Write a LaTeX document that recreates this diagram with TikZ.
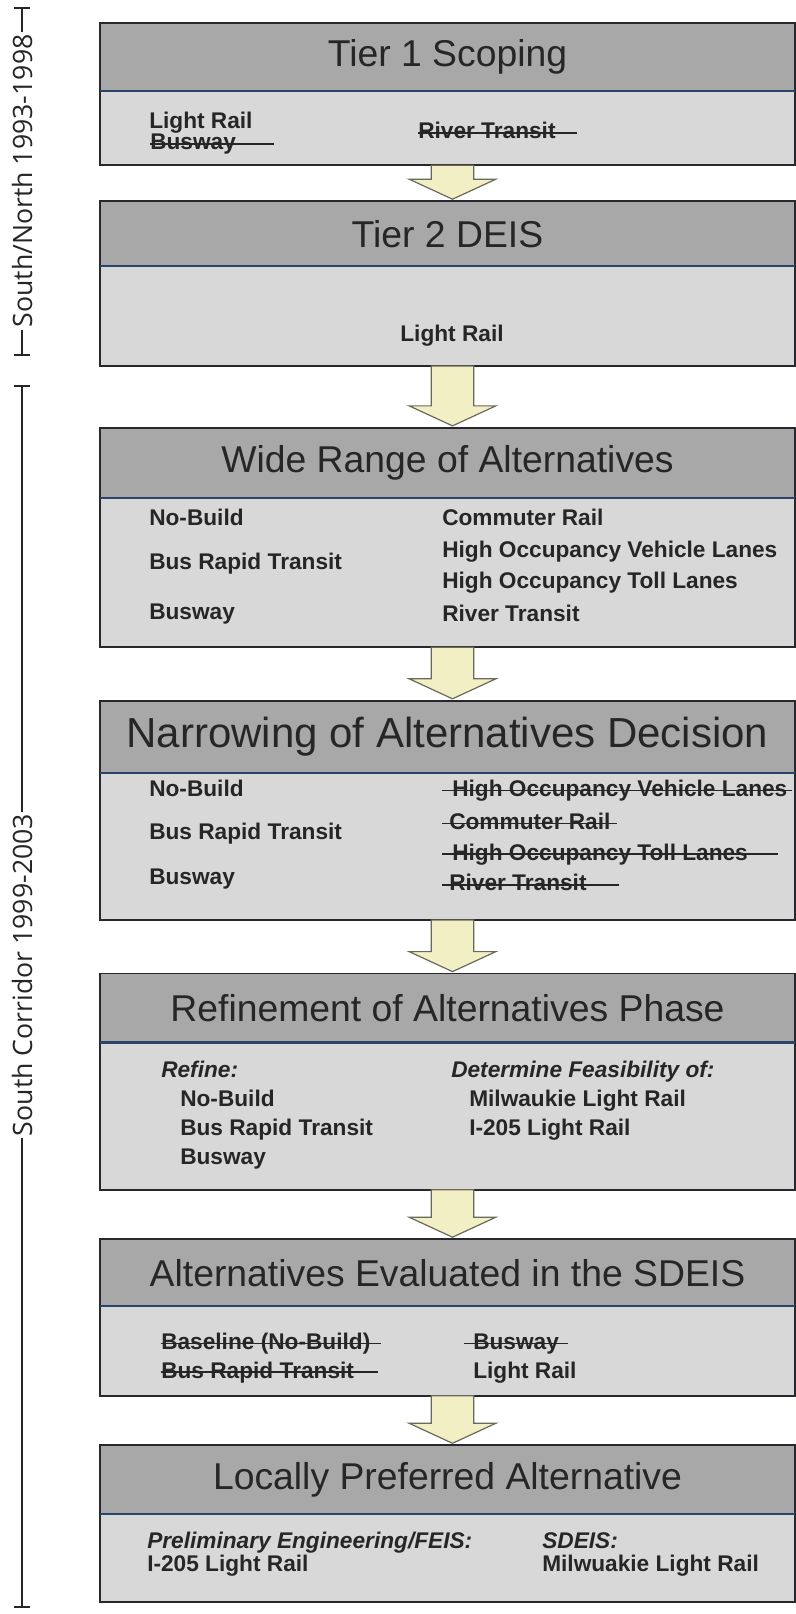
\documentclass[tikz,border=0pt]{standalone}
\usepackage{fontspec}
\setmainfont{Liberation Sans}
\newfontfamily\sidefont{Open Sans}
\usepackage{tikz}
\usetikzlibrary{positioning,calc}
\definecolor{headgray}{RGB}{168,168,168}
\definecolor{bodygray}{RGB}{216,216,216}
\definecolor{framecol}{RGB}{40,40,44}
\definecolor{sepblue}{RGB}{44,68,108}
\definecolor{inkcol}{RGB}{38,38,38}
\definecolor{arrowfill}{RGB}{243,239,196}
\definecolor{arrowline}{RGB}{105,105,92}
\tikzstyle{header} = [draw=framecol, line width=1.2pt, fill=headgray, minimum width=521.25pt,
    inner sep=0pt, outer sep=0pt, text=inkcol, font=\fontsize{28}{30}\selectfont]
\tikzstyle{panel} = [draw=framecol, line width=1.5pt, fill=bodygray, minimum width=521.25pt,
    inner sep=0pt, outer sep=0pt]
\tikzstyle{item} = [anchor=west, inner sep=0pt, text height=0.72em, text depth=0.2em,
    yshift=-3.4pt, text=inkcol, font=\bfseries\fontsize{17}{19}\selectfont]
\tikzstyle{note} = [item, font=\bfseries\itshape\fontsize{17}{19}\selectfont]
\tikzstyle{struck} = [draw=inkcol, line width=1.3pt]
\tikzstyle{divider} = [draw=sepblue, line width=1.8pt]
\tikzstyle{stagearrow} = [draw=arrowline, fill=arrowfill, line width=0.9pt, line join=miter]
\tikzstyle{span} = [draw=inkcol, line width=2pt]
\tikzstyle{era} = [fill=white, rotate=90, inner sep=1.5pt, text=inkcol,
    font=\sidefont\fontsize{20}{22}\selectfont]
% block arrow from one box down to the next
\newcommand{\flowdown}[2]{%
  \draw[stagearrow] let \p1=($(#1.south)+(3.75pt,0)$), \p2=(#2.north) in
    (\x1-16pt,\y1) -- (\x1-16pt,\y2+16.5pt) -- (\x1-32.5pt,\y2+16.5pt) -- (\x1,\y2+1.5pt)
    -- (\x1+32.5pt,\y2+16.5pt) -- (\x1+16pt,\y2+16.5pt) -- (\x1+16pt,\y1) -- cycle;}
% line through a dropped option
\newcommand{\strike}[3]{\draw[struck] ($(#1.west)+(#2,-2.3)$) -- ($(#1.east)+(#3,-2.3)$);}

\begin{document}
\begin{tikzpicture}[x=0.75pt, y=-0.75pt]
  \useasboundingbox (0,0) rectangle (796,1614);
  % Place boxes
  \node [header, minimum height=51pt, anchor=north west] (h1) at (100,23) {Tier 1 Scoping};
  \node [panel, minimum height=55.65pt, below=0pt of h1] (b1) {};
  \node [header, minimum height=48.75pt, below=27pt of b1] (h2) {Tier 2 DEIS};
  \node [panel, minimum height=74.9pt, below=0pt of h2] (b2) {};
  \node [header, minimum height=52.5pt, below=46.35pt of b2] (h3) {Wide Range of Alternatives};
  \node [panel, minimum height=112pt, below=0pt of h3] (b3) {};
  \node [header, minimum height=54pt, below=40.2pt of b3, font=\fontsize{31.5}{33}\selectfont] (h4) {Narrowing of Alternatives Decision};
  \node [panel, minimum height=110.4pt, below=0pt of h4] (b4) {};
  \node [header, minimum height=51.75pt, below=40.2pt of b4] (h5) {Refinement of Alternatives Phase};
  \node [panel, minimum height=110.4pt, below=0pt of h5] (b5) {};
  \node [header, minimum height=50.25pt, below=37.05pt of b5] (h6) {Alternatives Evaluated in the SDEIS};
  \node [panel, minimum height=67.2pt, below=0pt of h6] (b6) {};
  \node [header, minimum height=51.75pt, below=37.1pt of b6] (h7) {Locally Preferred Alternative};
  \node [panel, minimum height=65.7pt, below=0pt of h7] (b7) {};
  \foreach \n in {1,...,7}
    \draw [divider] (h\n.south west) -- (h\n.south east);
  % Arrows
  \flowdown{b1}{h2}
  \flowdown{b2}{h3}
  \flowdown{b3}{h4}
  \flowdown{b4}{h5}
  \flowdown{b5}{h6}
  \flowdown{b6}{h7}
  % Tier 1
  \node [item] (lr1) at ($(b1.north west)+(49,29)$) {Light Rail};
  \node [item] (bw1) at ($(b1.north west)+(50,50.5)$) {Busway};
  \node [item] (rt1) at ($(b1.north west)+(318,39.5)$) {River Transit};
  \strike{bw1}{0}{38}
  \strike{rt1}{0}{21}
  % Tier 2
  \node [item, anchor=center] (lr2) at ($(b2.north west)+(352,67)$) {Light Rail};
  % Wide range
  \node [item] (nb3) at ($(b3.north west)+(49,19.6)$) {No-Build};
  \node [item] (brt3) at ($(b3.north west)+(49,64)$) {Bus Rapid Transit};
  \node [item] (bw3) at ($(b3.north west)+(49,113.3)$) {Busway};
  \node [item] (cr3) at ($(b3.north west)+(342,19.6)$) {Commuter Rail};
  \node [item] (hov3) at ($(b3.north west)+(342,51.5)$) {High Occupancy Vehicle Lanes};
  \node [item] (hot3) at ($(b3.north west)+(342,82.4)$) {High Occupancy Toll Lanes};
  \node [item] (rt3) at ($(b3.north west)+(342,115.3)$) {River Transit};
  % Narrowing
  \node [item] (nb4) at ($(b4.north west)+(49,15.4)$) {No-Build};
  \node [item] (brt4) at ($(b4.north west)+(49,58.7)$) {Bus Rapid Transit};
  \node [item] (bw4) at ($(b4.north west)+(49,103.9)$) {Busway};
  \node [item] (hov4) at ($(b4.north west)+(352,15.4)$) {High Occupancy Vehicle Lanes};
  \node [item] (cr4) at ($(b4.north west)+(349,48.4)$) {Commuter Rail};
  \node [item] (hot4) at ($(b4.north west)+(352,79.2)$) {High Occupancy Toll Lanes};
  \node [item] (rt4) at ($(b4.north west)+(349,110.1)$) {River Transit};
  \strike{hov4}{-10}{4}
  \strike{cr4}{-7}{6}
  \strike{hot4}{-10}{30}
  \strike{rt4}{-7}{32}
  % Refinement
  \node [note] (rf5) at ($(b5.north west)+(61,26.7)$) {Refine:};
  \node [item] (nb5) at ($(b5.north west)+(80,55.6)$) {No-Build};
  \node [item] (brt5) at ($(b5.north west)+(80,84.4)$) {Bus Rapid Transit};
  \node [item] (bw5) at ($(b5.north west)+(80,114.3)$) {Busway};
  \node [note] (df5) at ($(b5.north west)+(351,26.7)$) {Determine Feasibility of:};
  \node [item] (mlr5) at ($(b5.north west)+(369,55.6)$) {Milwaukie Light Rail};
  \node [item] (ilr5) at ($(b5.north west)+(369,84.4)$) {I-205 Light Rail};
  % SDEIS
  \node [item] (bl6) at ($(b6.north west)+(61,35)$) {Baseline (No-Build)};
  \node [item] (brt6) at ($(b6.north west)+(61,63.8)$) {Bus Rapid Transit};
  \node [item] (bw6) at ($(b6.north west)+(373,35)$) {Busway};
  \node [item] (lr6) at ($(b6.north west)+(373,63.8)$) {Light Rail};
  \strike{bl6}{0}{10}
  \strike{brt6}{0}{24}
  \strike{bw6}{-9}{9}
  % Locally preferred
  \node [note] (pe7) at ($(b7.north west)+(47,25.8)$) {Preliminary Engineering/FEIS:};
  \node [item] (ilr7) at ($(b7.north west)+(47,49.4)$) {I-205 Light Rail};
  \node [note] (sd7) at ($(b7.north west)+(442,25.8)$) {SDEIS:};
  \node [item] (mlr7) at ($(b7.north west)+(442,49.4)$) {Milwuakie Light Rail};
  % Time spans
  \coordinate (s1a) at (22,8);
  \coordinate (s1b) at (22,355);
  \coordinate (s2a) at (22,386);
  \coordinate (s2b) at (22,1607);
  \draw [span] (s1a) -- (s1b);
  \draw [span] (s2a) -- (s2b);
  \foreach \c in {s1a,s1b,s2a,s2b}
    \draw [span] ($(\c)+(-8,0)$) -- ($(\c)+(8,0)$);
  \node [era] (era1) at (22,181) {South/North 1993-1998};
  \node [era] (era2) at (22,975) {South Corridor 1999-2003};
\end{tikzpicture}
\end{document}
